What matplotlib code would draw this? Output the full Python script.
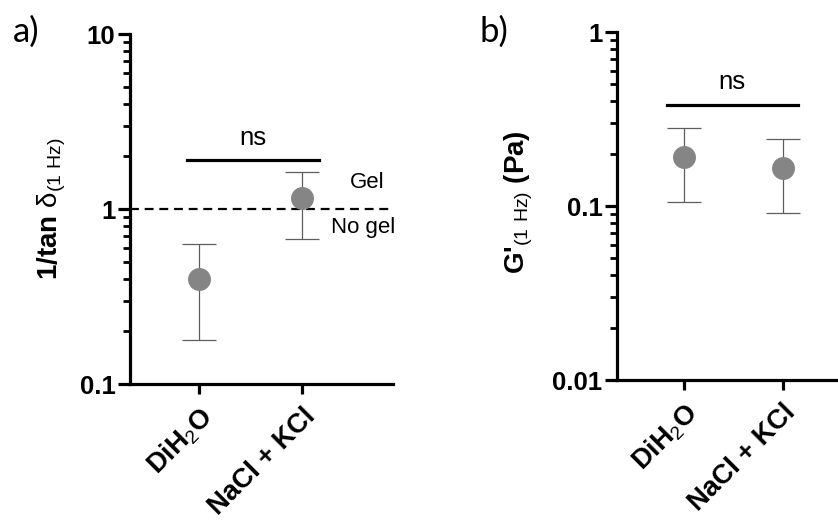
import matplotlib
matplotlib.use('Agg')
import matplotlib.pyplot as plt
from matplotlib.ticker import LogLocator, NullFormatter, FixedLocator, FixedFormatter

plt.rcParams['font.family'] = ['Liberation Sans', 'DejaVu Sans']
plt.rcParams['mathtext.fontset'] = 'custom'
plt.rcParams['mathtext.rm'] = 'Liberation Sans'

categories = ['DiH$_\\mathrm{2}$O', 'NaCl + KCl']

# panel a: 1/tan delta at 1 Hz
tan_mean = [0.40, 1.16]
tan_low = [0.178, 0.67]
tan_high = [0.63, 1.63]

# panel b: G' at 1 Hz (Pa)
g_mean = [0.191, 0.165]
g_low = [0.105, 0.091]
g_high = [0.281, 0.243]

marker_color = '#858585'
bar_color = '#5e5e5e'


def style_axis(ax, ylim, yticks, yticklabels, xlim):
    ax.set_yscale('log')
    ax.set_ylim(*ylim)
    ax.set_xlim(*xlim)
    for side in ['top', 'right']:
        ax.spines[side].set_visible(False)
    for side in ['left', 'bottom']:
        ax.spines[side].set_linewidth(2.3)
    ax.yaxis.set_major_locator(FixedLocator(yticks))
    ax.yaxis.set_major_formatter(FixedFormatter(yticklabels))
    ax.yaxis.set_minor_locator(LogLocator(base=10, subs=range(2, 10)))
    ax.yaxis.set_minor_formatter(NullFormatter())
    ax.tick_params(axis='y', which='major', length=8.5, width=2.3, labelsize=18.5, pad=2)
    ax.tick_params(axis='y', which='minor', length=5, width=2.0)
    ax.tick_params(axis='x', which='major', length=7, width=2.3, labelsize=19.5, pad=7)
    ax.set_xticks(range(len(categories)))
    ax.set_xticklabels(categories, rotation=45, ha='right', rotation_mode='anchor',
                       fontweight='bold')
    for lab in ax.get_yticklabels():
        lab.set_fontweight('bold')


def draw_points(ax, mean, low, high):
    x = list(range(len(mean)))
    err = [[m - l for m, l in zip(mean, low)], [h - m for m, h in zip(mean, high)]]
    ax.errorbar(x, mean, yerr=err, fmt='none', ecolor=bar_color, elinewidth=0.9,
                capsize=12, capthick=0.9, zorder=2)
    ax.plot(x, mean, 'o', color=marker_color, markersize=15.5, zorder=3)


fig = plt.figure(figsize=(8.38, 5.2), dpi=100)

ax1 = fig.add_axes([0.1551, 0.2615, 0.3139, 0.6731])
style_axis(ax1, (0.1, 10), [0.1, 1, 10], ['0.1', '1', '10'], (-0.67, 1.88))
draw_points(ax1, tan_mean, tan_low, tan_high)
ax1.axhline(1, color='black', linestyle=(0, (4, 2.6)), linewidth=1.6, zorder=1)
ax1.plot([-0.12, 1.165], [1.9, 1.9], color='black', linewidth=2.3, clip_on=False)
ax1.text(0.52, 2.55, 'ns', ha='center', va='center', fontsize=18.5)
ax1.text(1.63, 1.41, 'Gel', ha='center', va='center', fontsize=16)
ax1.text(1.59, 0.78, 'No gel', ha='center', va='center', fontsize=16)
ax1.set_ylabel('1/tan $\\mathrm{\\delta_{(1\\ Hz)}}$', fontsize=20, fontweight='bold')
ax1.yaxis.set_label_coords(-0.235, 0.5)

ax2 = fig.add_axes([0.7363, 0.2692, 0.2637, 0.6692])
style_axis(ax2, (0.01, 1), [0.01, 0.1, 1], ['0.01', '0.1', '1'], (-0.68, 1.56))
draw_points(ax2, g_mean, g_low, g_high)
ax2.plot([-0.17, 1.15], [0.38, 0.38], color='black', linewidth=2.3, clip_on=False)
ax2.text(0.48, 0.516, 'ns', ha='center', va='center', fontsize=18.5)
ax2.set_ylabel("G'$_\\mathrm{(1\\ Hz)}$ (Pa)", fontsize=20, fontweight='bold')
ax2.yaxis.set_label_coords(-0.372, 0.51)

fig.text(26 / 838, 1 - 32 / 520, 'a)', fontsize=25, family='Lato', ha='center', va='center')
fig.text(494 / 838, 1 - 32 / 520, 'b)', fontsize=25, family='Lato', ha='center', va='center')

fig.savefig('out.png', dpi=100)
